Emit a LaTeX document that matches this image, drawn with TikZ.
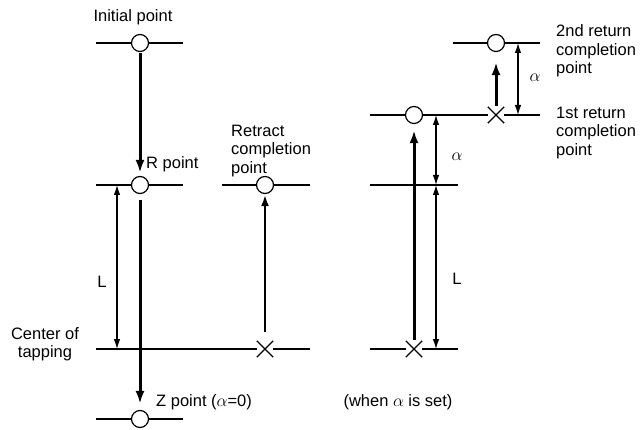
\documentclass[tikz,border=0pt]{standalone}
\usepackage{fontspec}
\setmainfont{Liberation Sans}
\usetikzlibrary{positioning, arrows.meta, calc, shapes.misc}

\begin{document}
\begin{tikzpicture}[
	x=1pt, y=-1pt,
	font=\fontsize{16.5pt}{18.5pt}\selectfont,
	% --- STYLES ---
	ptmark/.style={
		circle, draw, line width=1.2pt, fill=white,
		minimum size=17pt, inner sep=0pt
	},
	xmark/.style={
		cross out, draw, line width=1.4pt, minimum size=15pt, inner sep=0pt
	},
	level/.style={
		draw, line width=1.5pt
	},
	feed/.style={
		draw, line width=3pt, -{Latex[length=13pt, width=9pt]}
	},
	retract/.style={
		draw, line width=2pt, -{Latex[length=11pt, width=8pt]}
	},
	dimline/.style={
		draw, line width=1.1pt, {Latex[length=10pt, width=6.5pt]}-{Latex[length=10pt, width=6.5pt]}
	},
	lbl/.style={
		inner sep=0pt, align=left
	}
	]
	\useasboundingbox (0,0) rectangle (642,430);
	
	% ==========================================
	% 1. Tapping without alpha (left)
	% ==========================================
	\node [ptmark] (init_pt) at (140,43) {};
	\node [ptmark] (r_pt) at (140,185) {};
	\node [ptmark] (z_pt) at (140,419) {};
	\node [ptmark] (retract_pt) at (265,185) {};
	\node [xmark] (tap_x) at (265,349) {};
	
	\coordinate (init_l) at (96,43);  \coordinate (init_r) at (183,43);
	\coordinate (r_l) at (96,185);    \coordinate (r_r) at (183,185);
	\coordinate (z_l) at (96,419);    \coordinate (z_r) at (183,419);
	\coordinate (ret_l) at (222,185); \coordinate (ret_r) at (310,185);
	\coordinate (tap_l) at (96,349);  \coordinate (tap_r) at (310,349);
	
	\draw [level] (init_l) -- (init_pt) -- (init_r);
	\draw [level] (r_l) -- (r_pt) -- (r_r);
	\draw [level] (z_l) -- (z_pt) -- (z_r);
	\draw [level] (ret_l) -- (retract_pt) -- (ret_r);
	\draw [level] (tap_l) -- (tap_x) -- (tap_r);
	
	\draw [feed, shorten <=1pt, shorten >=3pt] (init_pt) -- (r_pt);
	\draw [feed, shorten <=6pt, shorten >=6pt] (r_pt) -- (z_pt);
	\draw [retract, shorten <=9pt, shorten >=1pt] (tap_x) -- (retract_pt);
	
	% dimension L
	\coordinate (dimL_top) at (117,185);
	\coordinate (dimL_bot) at (117,349);
	\draw [dimline] (dimL_top) -- (dimL_bot);
	\node (lbl_L1) at (102,282) {L};
	
	% labels
	\node (lbl_init) at (133,17) {Initial point};
	\node [lbl, anchor=west] (lbl_r) at (146,164) {R point};
	\node [lbl, anchor=west] (lbl_ret) at (231,151) {Retract\\completion\\point};
	\node [lbl, align=center] (lbl_tap) at (45,344) {Center of\\tapping};
	\node [lbl, anchor=west] (lbl_z) at (156,402) {Z point ($\alpha$=0)};
	
	% ==========================================
	% 2. Tapping with alpha (right)
	% ==========================================
	\node [xmark] (bot_x) at (414,349) {};
	\node [ptmark] (ret1_pt) at (414,115) {};
	\node [xmark] (ret1_x) at (496,115) {};
	\node [ptmark] (ret2_pt) at (496,43) {};
	
	\coordinate (bot_l) at (370,349);  \coordinate (bot_r) at (458,349);
	\coordinate (mid_l) at (370,185);  \coordinate (mid_r) at (458,185);
	\coordinate (ret1_l) at (370,115); \coordinate (ret1_r) at (540,115);
	\coordinate (ret2_l) at (453,43);  \coordinate (ret2_r) at (540,43);
	
	\draw [level] (bot_l) -- (bot_x) -- (bot_r);
	\draw [level] (mid_l) -- (mid_r);
	\draw [level] (ret1_l) -- (ret1_pt) -- (ret1_x) -- (ret1_r);
	\draw [level] (ret2_l) -- (ret2_pt) -- (ret2_r);
	
	\draw [feed, shorten <=1pt, shorten >=6pt] (bot_x) -- (ret1_pt);
	\draw [feed, shorten <=1pt, shorten >=10pt] (ret1_x) -- (ret2_pt);
	
	% dimensions alpha and L
	\coordinate (dimA1_top) at (436,115);
	\coordinate (dimA1_bot) at (436,185);
	\coordinate (dimL2_bot) at (436,349);
	\coordinate (dimA2_top) at (518,43);
	\coordinate (dimA2_bot) at (518,115);
	\draw [dimline] (dimA1_top) -- (dimA1_bot);
	\draw [dimline] (dimA1_bot) -- (dimL2_bot);
	\draw [dimline] (dimA2_top) -- (dimA2_bot);
	\node (lbl_a1) at (457,157) {$\alpha$};
	\node (lbl_L2) at (457,279) {L};
	\node (lbl_a2) at (535,78) {$\alpha$};
	
	% labels
	\node [lbl, anchor=west] (lbl_ret2) at (556,51) {2nd return\\completion\\point};
	\node [lbl, anchor=west] (lbl_ret1) at (556,133) {1st return\\completion\\point};
	\node (lbl_when) at (398,402) {(when $\alpha$ is set)};
\end{tikzpicture}
\end{document}
